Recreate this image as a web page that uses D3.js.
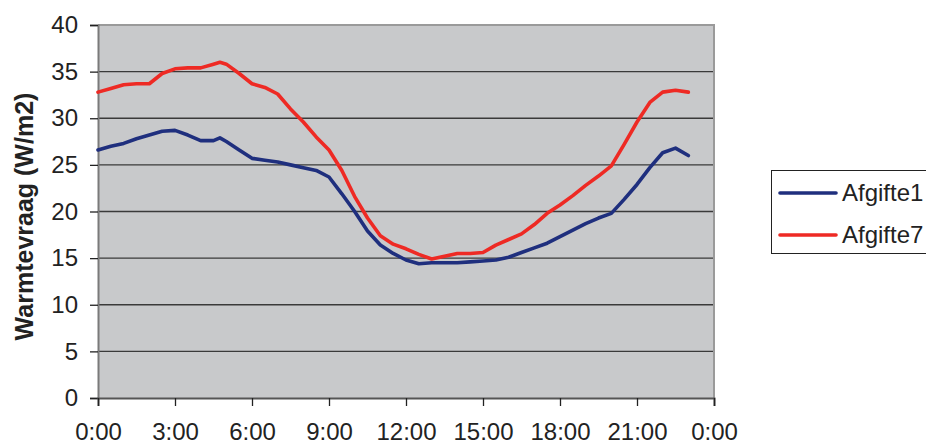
<!DOCTYPE html>
<html>
<head>
<meta charset="utf-8">
<script src="https://cdn.jsdelivr.net/npm/d3@7"></script>
<style>
  html, body { margin: 0; padding: 0; background: #ffffff; }
  svg { display: block; font-family: "Liberation Sans", Arial, sans-serif; }
</style>
</head>
<body>
<svg id="chart" width="926" height="444"></svg>
<script>
// Time of day (h:mm) for each measurement
const times = ["0:00","0:30","1:00","1:30","2:00","2:30","3:00","3:30","4:00","4:30","4:45","5:00",
  "5:30","6:00","6:30","7:00","7:30","8:00","8:30","9:00","9:30","10:00","10:30","11:00","11:30",
  "12:00","12:30","13:00","13:30","14:00","14:30","15:00","15:30","16:00","16:30","17:00","17:30",
  "18:00","18:30","19:00","19:30","20:00","20:30","21:00","21:30","22:00","22:30","23:00"];

// Heat demand (W/m2) per emission system
const afgifte1 = [26.6,27.0,27.3,27.8,28.2,28.6,28.7,28.2,27.6,27.6,27.9,27.5,
  26.6,25.7,25.5,25.3,25.0,24.7,24.4,23.7,21.9,20.0,17.9,16.4,15.5,
  14.8,14.4,14.5,14.5,14.5,14.6,14.7,14.8,15.1,15.6,16.1,16.6,
  17.3,18.0,18.7,19.3,19.8,21.3,22.9,24.7,26.3,26.8,26.0];
const afgifte7 = [32.8,33.2,33.6,33.7,33.7,34.8,35.3,35.4,35.4,35.8,36.0,35.8,
  34.8,33.7,33.3,32.6,31.0,29.6,28.0,26.6,24.4,21.6,19.3,17.4,16.5,
  16.0,15.4,14.9,15.2,15.5,15.5,15.6,16.4,17.0,17.6,18.6,19.8,
  20.7,21.7,22.8,23.8,24.9,27.2,29.6,31.7,32.8,33.0,32.8];

const seriesNames = ["Afgifte1", "Afgifte7"];
const seriesColors = ["#1f2f7e", "#ee2a24"];
const yTicks = [0, 5, 10, 15, 20, 25, 30, 35, 40];
const xTickHours = [0, 3, 6, 9, 12, 15, 18, 21, 24];
const xTickLabels = ["0:00","3:00","6:00","9:00","12:00","15:00","18:00","21:00","0:00"];
const yTitle = "Warmtevraag (W/m2)";

const svg = d3.select("#chart");
const plot = { left: 98, top: 25, right: 714, bottom: 398 };

const toHours = s => { const [h, m] = s.split(":").map(Number); return h + m / 60; };
const hours = times.map(toHours);

const x = d3.scaleLinear().domain([0, 24]).range([plot.left, plot.right]);
const y = d3.scaleLinear().domain([0, 40]).range([plot.bottom, plot.top]);

// Plot background
svg.append("rect")
  .attr("x", plot.left).attr("y", plot.top)
  .attr("width", plot.right - plot.left).attr("height", plot.bottom - plot.top)
  .attr("fill", "#c8c9cb");

// Horizontal gridlines
svg.append("g").selectAll("line")
  .data(yTicks.filter(v => v > 0 && v < 40))
  .join("line")
  .attr("x1", plot.left).attr("x2", plot.right)
  .attr("y1", d => y(d)).attr("y2", d => y(d))
  .attr("stroke", "#3a3a3a").attr("stroke-width", 1.3);

// Plot frame: top and right edges
svg.append("path")
  .attr("d", `M${plot.left},${plot.top}H${plot.right}V${plot.bottom}`)
  .attr("fill", "none").attr("stroke", "#9a9a9a").attr("stroke-width", 2);

// Y axis
const yAxis = svg.append("g")
  .attr("transform", `translate(${plot.left},0)`)
  .call(d3.axisLeft(y).tickValues(yTicks).tickSize(8).tickPadding(12).tickFormat(d3.format("d")));
yAxis.select(".domain").attr("stroke", "#7a7a7a").attr("stroke-width", 2);
yAxis.selectAll(".tick line").attr("stroke", "#222").attr("stroke-width", 1.3);
yAxis.selectAll(".tick text")
  .attr("font-size", 24).attr("fill", "#222")
  .attr("font-family", "'Liberation Sans', Arial, sans-serif");

// X axis
const xAxis = svg.append("g")
  .attr("transform", `translate(0,${plot.bottom})`)
  .call(d3.axisBottom(x).tickValues(xTickHours).tickSize(8).tickPadding(17)
    .tickFormat((d, i) => xTickLabels[i]));
xAxis.select(".domain").attr("stroke", "#555").attr("stroke-width", 2);
xAxis.selectAll(".tick line").attr("stroke", "#222").attr("stroke-width", 1.3);
xAxis.selectAll(".tick text")
  .attr("font-size", 24).attr("fill", "#222")
  .attr("font-family", "'Liberation Sans', Arial, sans-serif");

// Y axis title
svg.append("text")
  .attr("transform", `translate(33,${(plot.top + plot.bottom) / 2 + 5}) rotate(-90)`)
  .attr("text-anchor", "middle")
  .attr("font-size", 25).attr("font-weight", "bold").attr("fill", "#222")
  .text(yTitle);

// Series lines
const line = d3.line()
  .x((d, i) => x(hours[i]))
  .y(d => y(d));

[afgifte1, afgifte7].forEach((vals, k) => {
  svg.append("path")
    .datum(vals)
    .attr("d", line)
    .attr("fill", "none")
    .attr("stroke", seriesColors[k])
    .attr("stroke-width", 3.6)
    .attr("stroke-linejoin", "round")
    .attr("stroke-linecap", "round");
});

// Legend
const legend = svg.append("g").attr("transform", "translate(771,170)");
legend.append("rect")
  .attr("x", 0.5).attr("y", 0.5).attr("width", 160).attr("height", 83)
  .attr("fill", "#ffffff").attr("stroke", "#222").attr("stroke-width", 1);
seriesNames.forEach((name, k) => {
  const cy = 23 + k * 42;
  legend.append("line")
    .attr("x1", 9).attr("x2", 65).attr("y1", cy).attr("y2", cy)
    .attr("stroke", seriesColors[k]).attr("stroke-width", 3.6)
    .attr("stroke-linecap", "round");
  legend.append("text")
    .attr("x", 71).attr("y", cy + 8)
    .attr("font-size", 24).attr("fill", "#222")
    .text(name);
});
</script>
</body>
</html>
